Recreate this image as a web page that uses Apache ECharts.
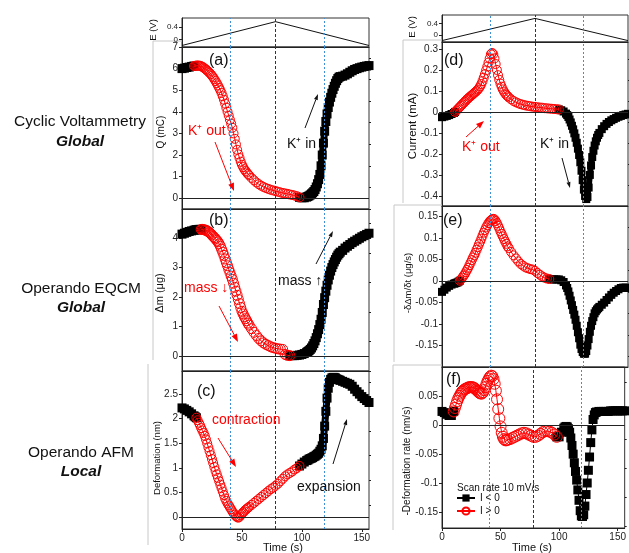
<!DOCTYPE html>
<html><head><meta charset="utf-8">
<script src="https://cdn.jsdelivr.net/npm/echarts/dist/echarts.min.js"></script>
<style>html,body{margin:0;padding:0;background:#fff;}#c{width:629px;height:553px;}</style>
</head><body><div id="c"></div>
<script>
// ---------------- data ----------------
const times = [0,2,4,6,8,10,
 11,12,13,14,15,16,17,18,19,20, 21,22,23,24,25,26,27,28,29,30, 31,32,33,34,35,36,37,38,39,40, 41,42,43,44,45,46,47,48,49,50, 51,52,53,54,55,56,
 58,60,62,64,66,68,70,72,74,76,78,80,82,84,86,88,90,92,94,96,98,100,102,104,
 105,106,107,108,109,110,111,112,113,114,115,116,117,118,119,120,121,122,123,124,125,126,127,128,129,130,131,132,
 134,136,138,140,142,144,146,148,150,152,154,156];

const eTimes = [0, 78, 156];
const eVolts = [-0.2, 0.58, -0.2];

// (a) charge Q (mC)
const chargeQ = [6.0,6.02,6.05,6.07,6.1,6.12,
 6.13,6.14,6.14,6.14,6.13,6.11,6.08,6.05,6.0,5.96, 5.91,5.86,5.8,5.74,5.67,5.6,5.51,5.42,5.32,5.22,
 5.11,5.0,4.87,4.72,4.56,4.38,4.19,4.0,3.82,3.63, 3.45,3.26,3.0,2.75,2.49,2.24,2.03,1.86,1.69,1.55, 1.44,1.34,1.26,1.19,1.12,1.06,
 0.94,0.83,0.73,0.65,0.58,0.52,0.47,0.43,0.39,0.36,0.33,0.3,0.27,0.24,0.22,0.2,0.17,0.15,0.12,0.09,0.04,0.02,0.02,0.05,
 0.08,0.11,0.15,0.2,0.25,0.31,0.4,0.52,0.67,0.86,1.1,1.5,2.0,2.55,3.1,3.55,3.9,4.2,4.45,4.67,4.86,5.03,5.18,5.32,5.44,5.54,5.6,5.63,
 5.65,5.7,5.76,5.83,5.9,5.96,6.0,6.04,6.07,6.1,6.12,6.14];

// (b) mass change (ug)
const massB = [4.13,4.16,4.19,4.22,4.24,4.26,
 4.27,4.28,4.28,4.29,4.29,4.29,4.29,4.28,4.27,4.26, 4.24,4.21,4.18,4.14,4.1,4.05,4.01,3.97,3.92,3.87,
 3.8,3.72,3.62,3.52,3.41,3.29,3.17,3.06,2.94,2.83, 2.71,2.6,2.47,2.33,2.2,2.06,1.92,1.78,1.65,1.52, 1.43,1.34,1.27,1.2,1.12,1.05,
 0.93,0.81,0.7,0.6,0.52,0.45,0.4,0.36,0.32,0.29,0.27,0.25,0.24,0.23,0.06,0.03,0.02,0.02,0.02,0.03,0.04,0.06,0.09,0.13,
 0.16,0.19,0.23,0.28,0.35,0.43,0.52,0.63,0.76,0.9,1.07,1.25,1.48,1.75,1.98,2.2,2.4,2.58,2.74,2.88,3.0,3.1,3.19,3.27,3.35,3.42,3.47,3.52,
 3.58,3.66,3.72,3.78,3.84,3.89,3.94,3.99,4.04,4.08,4.12,4.16];

// (c) deformation (nm)
const deformC = [2.22,2.2,2.17,2.14,2.1,2.06,
 2.04,2.02,1.97,1.92,1.87,1.81,1.76,1.71,1.65,1.58, 1.5,1.42,1.34,1.26,1.18,1.1,1.02,0.94,0.87,0.8,
 0.73,0.66,0.59,0.52,0.45,0.38,0.33,0.28,0.24,0.2, 0.16,0.12,0.08,0.05,0.02,0.0,-0.01,0.01,0.04,0.07, 0.1,0.12,0.15,0.17,0.19,0.21,
 0.25,0.29,0.33,0.37,0.41,0.45,0.49,0.53,0.57,0.6,0.64,0.68,0.73,0.78,0.83,0.87,0.9,0.93,0.97,1.0,1.04,1.08,1.12,1.15,
 1.16,1.18,1.19,1.2,1.21,1.23,1.24,1.26,1.28,1.3,1.34,1.38,1.45,1.6,1.85,2.15,2.42,2.62,2.74,2.8,2.83,2.84,2.84,2.83,2.81,2.8,2.79,2.78,
 2.76,2.74,2.72,2.7,2.66,2.6,2.55,2.5,2.45,2.41,2.37,2.33];

// (d) current (mA)
const currentD = [-0.025,-0.022,-0.019,-0.015,-0.01,-0.005,
 0.0,0.006,0.012,0.018,0.024,0.03,0.036,0.042,0.048,0.054, 0.06,0.065,0.07,0.075,0.08,0.085,0.09,0.095,0.1,0.106,
 0.113,0.122,0.133,0.147,0.163,0.18,0.198,0.216,0.235,0.255, 0.275,0.281,0.275,0.255,0.228,0.2,0.175,0.153,0.135,0.12, 0.107,0.097,0.088,0.081,0.075,0.069,
 0.06,0.052,0.046,0.041,0.037,0.034,0.031,0.029,0.027,0.025,0.024,0.022,0.021,0.02,0.018,0.017,0.016,0.015,0.014,0.013,0.012,0.008,0.002,-0.008,
 -0.015,-0.024,-0.036,-0.05,-0.066,-0.083,-0.102,-0.123,-0.147,-0.175,-0.205,-0.24,-0.28,-0.325,-0.37,-0.4,-0.415,-0.405,-0.36,-0.3,-0.255,-0.215,-0.185,-0.16,-0.14,-0.123,-0.11,-0.1,
 -0.082,-0.068,-0.057,-0.048,-0.04,-0.034,-0.028,-0.023,-0.019,-0.015,-0.012,-0.009];

// (e) -d(mass)/dt (ug/s)
const massRateE = [-0.025,-0.02,-0.015,-0.011,-0.008,-0.006,
 -0.005,-0.004,-0.003,-0.001,0.001,0.004,0.008,0.012,0.016,0.021, 0.026,0.031,0.037,0.043,0.049,0.055,0.06,0.066,0.073,0.079,
 0.086,0.092,0.099,0.106,0.113,0.119,0.125,0.13,0.135,0.139, 0.142,0.144,0.145,0.144,0.14,0.135,0.129,0.123,0.116,0.11, 0.104,0.098,0.092,0.087,0.081,0.077,
 0.068,0.06,0.053,0.046,0.04,0.036,0.032,0.03,0.028,0.027,0.024,0.019,0.015,0.011,0.008,0.006,0.005,0.004,0.004,0.004,0.004,0.002,-0.002,-0.01,
 -0.016,-0.024,-0.034,-0.045,-0.056,-0.067,-0.078,-0.09,-0.104,-0.119,-0.133,-0.148,-0.158,-0.165,-0.169,-0.169,-0.163,-0.15,-0.135,-0.118,-0.104,-0.093,-0.084,-0.075,-0.07,-0.066,-0.063,-0.06,
 -0.055,-0.05,-0.044,-0.038,-0.032,-0.027,-0.023,-0.019,-0.016,-0.015,-0.015,-0.016];

// (f) -deformation rate (nm/s)
const deformRateF = [0.024,0.022,0.019,0.017,0.017,0.024,
 0.03,0.036,0.042,0.047,0.051,0.055,0.058,0.06,0.062,0.063, 0.064,0.065,0.066,0.066,0.066,0.066,0.065,0.064,0.062,0.06,
 0.058,0.056,0.055,0.055,0.057,0.061,0.066,0.072,0.077,0.081, 0.084,0.086,0.085,0.08,0.072,0.06,0.045,0.028,0.012,-0.002, -0.013,-0.02,-0.024,-0.026,-0.026,-0.025,
 -0.024,-0.022,-0.02,-0.018,-0.016,-0.014,-0.013,-0.014,-0.016,-0.018,-0.02,-0.02,-0.018,-0.015,-0.012,-0.01,-0.01,-0.011,-0.013,-0.016,-0.02,-0.02,-0.012,-0.005,
 -0.003,-0.002,-0.003,-0.006,-0.012,-0.022,-0.035,-0.05,-0.065,-0.08,-0.095,-0.112,-0.13,-0.148,-0.157,-0.158,-0.155,-0.14,-0.12,-0.1,-0.078,-0.055,-0.03,-0.008,0.01,0.018,0.022,0.023,
 0.024,0.024,0.024,0.024,0.024,0.025,0.025,0.025,0.025,0.025,0.025,0.025];

// time windows where I > 0 (red)
const positiveA = [10, 98];
const positiveB = [16, 90];
const positiveC = [12, 98];
const positiveD = [11, 98];
const positiveE = [15, 90];
const positiveF = [10, 98];

const blueLines = [40.5, 118.8];
const blackLine = 78;

const xTicks = [0, 50, 100, 150];
const eTicks = [0, 0.4];
const ticksA = [0,1,2,3,4,5,6,7];
const minorA = [-0.5,0.5,1.5,2.5,3.5,4.5,5.5,6.5];
const ticksB = [0,1,2,3,4];
const minorB = [-0.5,0.5,1.5,2.5,3.5,4.5];
const ticksC = [0,0.5,1,1.5,2,2.5];
const minorC = [-0.25,0.25,0.75,1.25,1.75,2.25,2.75];
const ticksD = [-0.4,-0.3,-0.2,-0.1,0,0.1,0.2,0.3];
const minorD = [-0.35,-0.25,-0.15,-0.05,0.05,0.15,0.25];
const ticksE = [-0.15,-0.1,-0.05,0,0.05,0.1,0.15];
const minorE = [-0.175,-0.125,-0.075,-0.025,0.025,0.075,0.125];
const ticksF = [-0.15,-0.1,-0.05,0,0.05];
const minorF = [-0.175,-0.125,-0.075,-0.025,0.025,0.075];

[chargeQ, massB, deformC, currentD, massRateE, deformRateF].forEach((a, k) => {
  if (a.length !== times.length) throw new Error('length mismatch in array ' + k + ': ' + a.length + ' vs ' + times.length);
});

// ---------------- layout / styles ----------------
const FONT = '"Liberation Sans", Arial, Helvetica, sans-serif';
const RED = '#ff0000';
const grids = [
  {left:182, top:18,  width:187, height:29},
  {left:182, top:47,  width:187, height:162},
  {left:182, top:209, width:187, height:162},
  {left:182, top:371, width:187, height:158},
  {left:442, top:15,  width:186, height:27},
  {left:442, top:42,  width:186, height:164},
  {left:442, top:206, width:186, height:161},
  {left:442, top:367, width:186, height:161}
].map(g => Object.assign({show:true, borderColor:'#333', borderWidth:1, backgroundColor:'transparent'}, g));

const panels = [
  {g:1, vals:chargeQ,    pos:positiveA, min:-0.5,  max:7,     ticks:ticksA, minor:minorA, sq:9, ci:9,  band:7},
  {g:2, vals:massB,      pos:positiveB, min:-0.5,  max:4.98,  ticks:ticksB, minor:minorB, sq:9, ci:10, band:7},
  {g:3, vals:deformC,    pos:positiveC, min:-0.24, max:2.97,  ticks:ticksC, minor:minorC, sq:9, ci:9,  band:7},
  {g:5, vals:currentD,   pos:positiveD, min:-0.448,max:0.333, ticks:ticksD, minor:minorD, sq:8, ci:9,  band:6},
  {g:6, vals:massRateE,  pos:positiveE, min:-0.2,  max:0.175, ticks:ticksE, minor:minorE, sq:8, ci:9,  band:6},
  {g:7, vals:deformRateF,pos:positiveF, min:-0.178,max:0.101, ticks:ticksF, minor:minorF, sq:9, ci:11, band:0}
];
const bottomGrids = [3, 7];

const fmt = v => (Math.abs(v) < 1e-9 ? '0' : String(v));

const xAxes = grids.map((g, i) => {
  const bottom = bottomGrids.includes(i);
  return {
    gridIndex:i, type:'value', min:0, max:156,
    axisLine:{show:true, onZero:false, lineStyle:{color:'#222', width:1}},
    splitLine:{show:false},
    axisTick:{show:bottom, customValues:xTicks, length:3, lineStyle:{color:'#222'}},
    axisLabel:{show:bottom, customValues:xTicks, fontSize:10, color:'#222', fontFamily:FONT, margin:4}
  };
});

const yAxes = [];
const series = [];

function vMarks(withZero) {
  const d = blueLines.map(v => ({xAxis:v, lineStyle:{color:'#3d8fd6', type:[2,2], width:1}}));
  d.push({xAxis:blackLine, lineStyle:{color:'#333', type:[3,2], width:1}});
  if (withZero) d.push({yAxis:0, lineStyle:{color:'#222', type:'solid', width:1}});
  return {silent:true, symbol:['none','none'], label:{show:false}, animation:false, data:d};
}

// E panels
[0, 4].forEach(gi => {
  const yi = yAxes.length;
  yAxes.push({
    gridIndex:gi, type:'value', min:-0.25, max:0.7,
    axisLine:{show:true, onZero:false, lineStyle:{color:'#222'}}, splitLine:{show:false},
    axisTick:{show:true, customValues:eTicks, length:3, lineStyle:{color:'#222'}},
    axisLabel:{customValues:eTicks, fontSize:8, color:'#222', fontFamily:FONT, margin:4, formatter:fmt}
  });
  series.push({
    type:'line', xAxisIndex:gi, yAxisIndex:yi, data:eTimes.map((t, i) => [t, eVolts[i]]),
    showSymbol:false, lineStyle:{color:'#111', width:1}, silent:true, animation:false,
    markLine:vMarks(false)
  });
});

panels.forEach(p => {
  const yi = yAxes.length;
  yAxes.push({
    gridIndex:p.g, type:'value', min:p.min, max:p.max,
    axisLine:{show:true, onZero:false, lineStyle:{color:'#222'}}, splitLine:{show:false},
    axisTick:{show:true, customValues:p.ticks, length:3, lineStyle:{color:'#222'}},
    axisLabel:{customValues:p.ticks, fontSize:10, color:'#222', fontFamily:FONT, margin:4, formatter:fmt}
  });
  yAxes.push({
    gridIndex:p.g, type:'value', min:p.min, max:p.max,
    axisLine:{show:false, onZero:false}, splitLine:{show:false}, axisLabel:{show:false},
    axisTick:{show:true, customValues:p.minor, length:2, lineStyle:{color:'#222'}}
  });
  const black = times.map((t, i) => [t, (t <= p.pos[0] || t >= p.pos[1]) ? p.vals[i] : null]);
  const red = [];
  times.forEach((t, i) => { if (t >= p.pos[0] && t <= p.pos[1]) red.push([t, p.vals[i]]); });
  if (p.band) {
    series.push({
      type:'line', xAxisIndex:p.g, yAxisIndex:yi, data:black, connectNulls:false,
      showSymbol:false, lineStyle:{color:'#000', width:p.band},
      emphasis:{disabled:true}, silent:true, animation:false, z:2
    });
  }
  series.push({
    name:'I < 0', type:'line', xAxisIndex:p.g, yAxisIndex:yi, data:black, connectNulls:false,
    symbol:'rect', symbolSize:p.sq, showAllSymbol:true,
    itemStyle:{color:'#000'}, lineStyle:{color:'#000', width:1},
    emphasis:{disabled:true}, silent:true, animation:false, z:2
  });
  series.push({
    name:'I > 0', type:'line', xAxisIndex:p.g, yAxisIndex:yi, data:red,
    symbol:'circle', symbolSize:p.ci, showAllSymbol:true,
    itemStyle:{color:'rgba(255,255,255,0)', borderColor:RED, borderWidth:1},
    lineStyle:{color:RED, width:1},
    emphasis:{disabled:true}, silent:true, animation:false, z:3,
    markLine:vMarks(true)
  });
});

// ---------------- annotations ----------------
function txt(x, y, text, opt) {
  opt = opt || {};
  return {type:'text', x:x, y:y, rotation:opt.rot || 0, silent:true, z:10,
    style:{text:text, fill:opt.color || '#111', fontSize:opt.size || 14, fontFamily:FONT,
      fontWeight:opt.weight || 'normal', fontStyle:opt.style || 'normal',
      align:opt.align || 'left', verticalAlign:'middle'}};
}
function arrow(x1, y1, x2, y2, color, hl, hw) {
  const a = Math.atan2(y2 - y1, x2 - x1);
  const bx = x2 - hl * Math.cos(a), by = y2 - hl * Math.sin(a);
  const px = -Math.sin(a) * hw / 2, py = Math.cos(a) * hw / 2;
  return [
    {type:'line', silent:true, z:10, shape:{x1:x1, y1:y1, x2:bx, y2:by}, style:{stroke:color, lineWidth:1}},
    {type:'polygon', silent:true, z:10, shape:{points:[[x2, y2], [bx + px, by + py], [bx - px, by - py]]}, style:{fill:color}}
  ];
}
function gline(x1, y1, x2, y2) {
  return {type:'line', silent:true, z:0, shape:{x1:x1, y1:y1, x2:x2, y2:y2}, style:{stroke:'#c8c8c8', lineWidth:1}};
}

const graphics = [
  // row titles
  txt(80, 122, 'Cyclic Voltammetry', {size:15.5, align:'center'}),
  txt(80, 142, 'Global', {size:15.5, align:'center', weight:'bold', style:'italic'}),
  txt(81, 289, 'Operando EQCM', {size:15.5, align:'center'}),
  txt(81, 308, 'Global', {size:15.5, align:'center', weight:'bold', style:'italic'}),
  txt(81, 453, 'Operando AFM', {size:15.5, align:'center'}),
  txt(81, 472, 'Local', {size:15.5, align:'center', weight:'bold', style:'italic'}),
  // y-axis titles
  txt(153, 30, 'E (V)', {size:9.5, align:'center', rot:Math.PI / 2}),
  txt(412, 27, 'E (V)', {size:9.5, align:'center', rot:Math.PI / 2}),
  txt(161, 132, 'Q (mC)', {size:10, align:'center', rot:Math.PI / 2}),
  txt(160, 293, 'Δm (μg)', {size:11, align:'center', rot:Math.PI / 2}),
  txt(157, 458, 'Deformation (nm)', {size:9.5, align:'center', rot:Math.PI / 2}),
  txt(413, 126, 'Current (mA)', {size:11.5, align:'center', rot:Math.PI / 2}),
  txt(408, 283, '-δΔm/δt (μg/s)', {size:9.5, align:'center', rot:Math.PI / 2}),
  txt(407, 461, '-Deformation rate (nm/s)', {size:10, align:'center', rot:Math.PI / 2}),
  // x-axis titles
  txt(283, 548, 'Time (s)', {size:11, align:'center'}),
  txt(532, 548, 'Time (s)', {size:11, align:'center'}),
  // panel letters
  txt(209, 61, '(a)', {size:16}),
  txt(209, 221, '(b)', {size:16}),
  txt(197, 392, '(c)', {size:16}),
  txt(444, 61, '(d)', {size:16}),
  txt(443, 221, '(e)', {size:16}),
  txt(446, 380, '(f)', {size:16}),
  // annotations
  txt(188, 131, 'K⁺ out', {size:14, color:RED}),
  txt(287, 144, 'K⁺ in', {size:14}),
  txt(184, 288, 'mass ↓', {size:14, color:RED}),
  txt(278, 281, 'mass ↑', {size:14}),
  txt(212, 420, 'contraction', {size:14, color:RED}),
  txt(297, 487, 'expansion', {size:14}),
  txt(462, 147, 'K⁺ out', {size:14, color:RED}),
  txt(540, 144, 'K⁺ in', {size:14}),
  txt(457, 488, 'Scan rate 10 mV/s', {size:10}),
  // faint frame lines of the composite
  gline(153, 41, 182, 41), gline(153, 41, 153, 360),
  gline(148, 364, 148, 545),
  gline(403, 40, 442, 40), gline(403, 40, 403, 203),
  gline(394, 205, 442, 205), gline(394, 205, 394, 362),
  gline(393, 365, 442, 365), gline(393, 365, 393, 530)
].concat(
  arrow(215, 142, 234, 191, RED, 8, 6),
  arrow(305, 128, 318, 94, '#111', 6, 4),
  arrow(219, 306, 238, 342, RED, 8, 6),
  arrow(316, 264, 333, 231, '#111', 6, 4),
  arrow(218, 438, 236, 467, RED, 8, 6),
  arrow(333, 464, 347, 419, '#111', 6, 4),
  arrow(466, 137, 484, 121, RED, 8, 6),
  arrow(562, 158, 570, 188, '#111', 6, 4)
);

const chart = echarts.init(document.getElementById('c'), null, {renderer:'canvas'});
chart.setOption({
  animation:false,
  backgroundColor:'#fff',
  textStyle:{fontFamily:FONT},
  grid:grids,
  xAxis:xAxes,
  yAxis:yAxes,
  series:series,
  legend:{
    left:456, top:493, padding:0, orient:'vertical', itemWidth:18, itemHeight:9, itemGap:3, selectedMode:false,
    textStyle:{fontSize:10, color:'#111', fontFamily:FONT},
    data:['I < 0', 'I > 0']
  },
  graphic:graphics
});
</script></body></html>
